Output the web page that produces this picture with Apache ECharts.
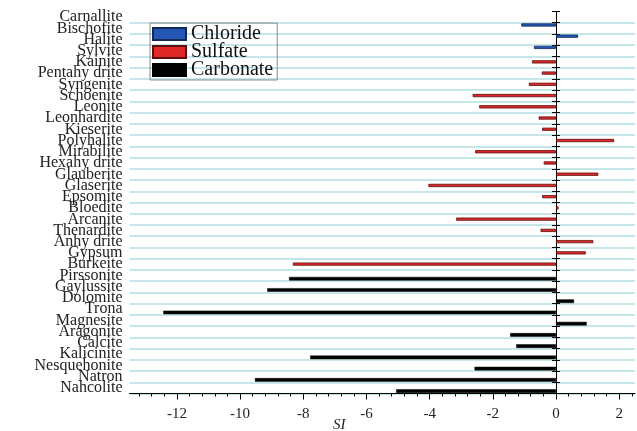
<!DOCTYPE html>
<html>
<head>
<meta charset="utf-8">
<script src="https://cdn.jsdelivr.net/npm/echarts@6/dist/echarts.min.js"></script>
<style>
  html, body { margin: 0; padding: 0; background: #fff; }
  #chart { width: 637px; height: 431px; }
</style>
</head>
<body>
<div id="chart"></div>
<script>
// Minerals, top to bottom
const minerals = [
  'Carnallite', 'Bischofite', 'Halite', 'Sylvite',
  'Kainite', 'Pentahy drite', 'Syngenite', 'Schoenite', 'Leonite', 'Leonhardite',
  'Kieserite', 'Polyhalite', 'Mirabilite', 'Hexahy drite', 'Glauberite', 'Glaserite',
  'Epsomite', 'Bloedite', 'Arcanite', 'Thenardite', 'Anhy drite', 'Gypsum', 'Burkeite',
  'Pirssonite', 'Gaylussite', 'Dolomite', 'Trona', 'Magnesite', 'Aragonite', 'Calcite',
  'Kalicinite', 'Nesquehonite', 'Natron', 'Nahcolite'
];

// Saturation index (SI) per mineral group; null where the mineral is in another group
const chlorideSI = [
  null, -1.1, 0.7, -0.7,
  null, null, null, null, null, null, null, null, null, null, null, null,
  null, null, null, null, null, null, null,
  null, null, null, null, null, null, null, null, null, null, null
];
const sulfateSI = [
  null, null, null, null,
  -0.76, -0.45, -0.86, -2.64, -2.43, -0.55, -0.44, 1.84, -2.56, -0.39, 1.34, -4.04,
  -0.44, 0.08, -3.16, -0.49, 1.18, 0.94, -8.33,
  null, null, null, null, null, null, null, null, null, null, null
];
const carbonateSI = [
  null, null, null, null,
  null, null, null, null, null, null, null, null, null, null, null, null,
  null, null, null, null, null, null, null,
  -8.45, -9.14, 0.57, -12.43, 0.97, -1.45, -1.26, -7.78, -2.58, -9.53, -5.06
];

// SI axis ticks
const majorTicks = [-12, -10, -8, -6, -4, -2, 0, 2];
const minorTicks = [-13.2, -12.8, -12.4, -12, -11.6, -11.2, -10.8, -10.4, -10, -9.6, -9.2, -8.8, -8.4, -8,
  -7.6, -7.2, -6.8, -6.4, -6, -5.6, -5.2, -4.8, -4.4, -4, -3.6, -3.2, -2.8, -2.4, -2, -1.6, -1.2, -0.8,
  -0.4, 0, 0.4, 0.8, 1.2, 1.6, 2, 2.4];

const serif = "'Liberation Serif', 'Times New Roman', serif";
const gridColor = '#b3dfe3';

const chart = echarts.init(document.getElementById('chart'));
chart.setOption({
  animation: false,
  backgroundColor: '#fff',
  title: {
    text: 'SI',
    left: 333,
    top: 418,
    padding: 0,
    textStyle: { fontFamily: serif, fontStyle: 'italic', fontWeight: 'normal', fontSize: 15, color: '#222' }
  },
  legend: {
    orient: 'vertical',
    left: 150,
    top: 23,
    padding: [1, 4, 0, 2],
    borderColor: '#8a8a8a',
    borderWidth: 1,
    itemWidth: 33,
    itemHeight: 12,
    itemGap: -2,
    icon: 'rect',
    textStyle: { fontFamily: serif, fontSize: 20, color: '#111' },
    data: ['Chloride', 'Sulfate', 'Carbonate']
  },
  grid: { left: 129.5, right: 2, top: 11.5, bottom: 37.5, containLabel: false },
  xAxis: [
    {
      type: 'value', min: -13.5, max: 2.5, position: 'bottom',
      axisLine: { show: true, lineStyle: { color: '#000', width: 1 } },
      axisTick: { show: true, length: 6, customValues: majorTicks, lineStyle: { color: '#000', width: 1 } },
      axisLabel: { customValues: majorTicks, margin: 13, fontFamily: serif, fontSize: 15, color: '#222',
        formatter: v => String(v).replace('\u2212', '-') },
      splitLine: { show: false }
    },
    {
      type: 'value', min: -13.5, max: 2.5, position: 'bottom',
      axisLine: { show: false },
      axisTick: { show: true, length: 3, customValues: minorTicks, lineStyle: { color: '#000', width: 1 } },
      axisLabel: { show: false },
      splitLine: { show: false }
    }
  ],
  yAxis: [
    {
      type: 'category', data: minerals, inverse: true, position: 'left',
      axisLine: { show: false, onZero: false },
      axisTick: { show: false },
      axisLabel: { margin: 7, fontFamily: serif, fontSize: 16, color: '#222', interval: 0 },
      splitLine: { show: true, interval: (i) => i !== 0, lineStyle: { color: gridColor, width: 1.5 } }
    },
    {
      type: 'category', data: minerals, inverse: true, position: 'left',
      axisLine: { show: true, onZero: true, lineStyle: { color: '#000', width: 1 } },
      axisTick: { show: true, inside: false, length: 4, interval: 0, lineStyle: { color: '#000' } },
      axisLabel: { show: false },
      splitLine: { show: false }
    },
    {
      type: 'category', data: minerals, inverse: true, position: 'left',
      axisLine: { show: false, onZero: true },
      axisTick: { show: true, inside: true, length: 4, interval: 0, lineStyle: { color: '#000' } },
      axisLabel: { show: false },
      splitLine: { show: false }
    }
  ],
  series: [
    {
      name: 'Chloride', type: 'bar', data: chlorideSI, barWidth: 3.2, barGap: '0%',
      itemStyle: { color: '#2457b3', borderColor: '#14285a', borderWidth: 0.8 }
    },
    {
      name: 'Sulfate', type: 'bar', data: sulfateSI, barWidth: 3.2, barGap: '0%',
      itemStyle: { color: '#e02828', borderColor: '#5a1010', borderWidth: 0.8 }
    },
    {
      name: 'Carbonate', type: 'bar', data: carbonateSI, barWidth: 3.6, barGap: '0%',
      itemStyle: { color: '#000', borderColor: '#000', borderWidth: 0.5 }
    }
  ]
});
</script>
</body>
</html>
